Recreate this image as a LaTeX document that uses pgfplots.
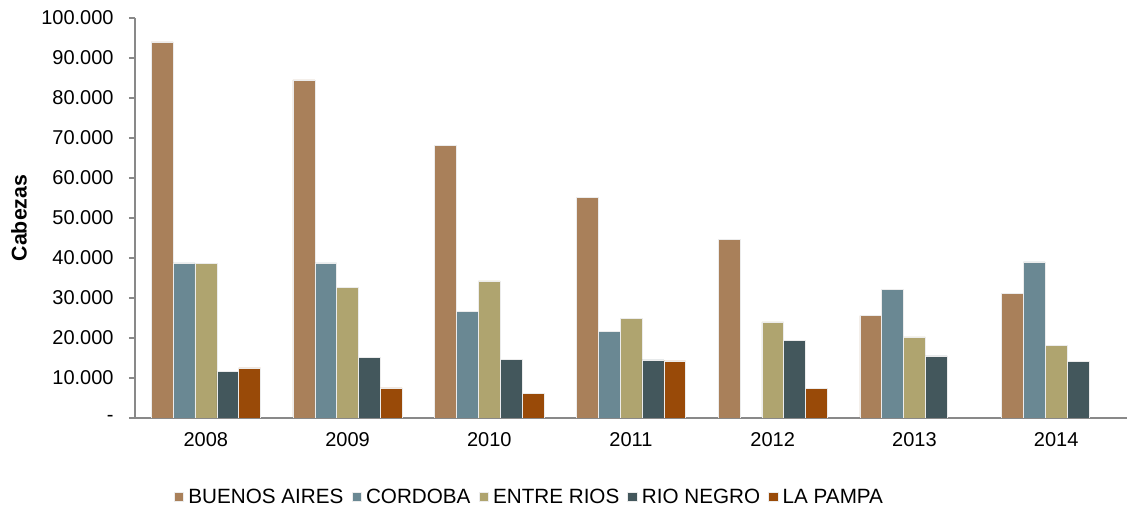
\documentclass[border=0pt]{standalone}
\usepackage{pgfplots}
\pgfplotsset{compat=1.18}
\usepackage{fontspec}
\setmainfont{Liberation Sans}
\definecolor{cBA}{HTML}{A9805A}
\definecolor{cCO}{HTML}{6A8893}
\definecolor{cER}{HTML}{AFA46F}
\definecolor{cRN}{HTML}{43575C}
\definecolor{cLP}{HTML}{994A08}
\definecolor{axgray}{HTML}{898989}
\begin{document}
\begin{tikzpicture}
\useasboundingbox (-101.25pt,-71.25pt) rectangle (744pt,313.5pt);
\begin{axis}[
  at={(0,0)}, anchor=south west,
  scale only axis, width=744pt, height=300pt,
  ybar=0pt, bar width=16.4pt,
  xmin=-0.5, xmax=6.5, ymin=0, ymax=100000,
  scaled y ticks=false,
  axis lines=left, axis line style={-, draw=axgray, line width=0.8pt},
  xtick={0,...,6}, xticklabels={2008,2009,2010,2011,2012,2013,2014},
  x tick style={draw=none},
  extra x ticks={-0.5,0.5,1.5,2.5,3.5,4.5,5.5,6.5},
  extra x tick labels={},
  extra x tick style={tick style={draw=axgray, line width=0.8pt}, major tick length=5pt, tick align=outside},
  ytick={0,10000,...,100000},
  yticklabels={-,10.000,20.000,30.000,40.000,50.000,60.000,70.000,80.000,90.000,100.000},
  y tick style={draw=axgray, line width=0.8pt},
  tick align=outside, major tick length=4.5pt,
  ticklabel style={font=\fontsize{15pt}{18pt}\selectfont},
  yticklabel style={xshift=-8pt},
  xticklabel style={yshift=-3pt},
  ylabel={\textbf{Cabezas}},
  ylabel style={at={(axis description cs:-0.117,0.5)}, anchor=center, font=\fontsize{16pt}{19pt}\selectfont},
  legend columns=-1,
  legend style={at={(axis description cs:0.398,-0.1975)}, anchor=center, draw=none, fill=none,
    font=\fontsize{15.5pt}{18pt}\selectfont, /tikz/every even column/.append style={column sep=4pt},
    /tikz/every odd column/.append style={column sep=1.5pt}},
  legend image code/.code={\fill[#1] (0pt,-3.5pt) rectangle (7pt,3.5pt);},
  every axis plot/.append style={draw=white!85!gray, line width=0.4pt},
]
\addplot[fill=cBA] coordinates {(0,94000) (1,84500) (2,68200) (3,55100) (4,44700) (5,25600) (6,31200)};
\addplot[fill=cCO] coordinates {(0,38800) (1,38800) (2,26600) (3,21600) (5,32200) (6,39000)};
\addplot[fill=cER] coordinates {(0,38700) (1,32700) (2,34300) (3,24900) (4,24000) (5,20250) (6,18200)};
\addplot[fill=cRN] coordinates {(0,11700) (1,15100) (2,14700) (3,14500) (4,19400) (5,15500) (6,14100)};
\addplot[fill=cLP] coordinates {(0,12500) (1,7500) (2,6200) (3,14250) (4,7400)};
\legend{BUENOS AIRES,CORDOBA,ENTRE RIOS,RIO NEGRO,LA PAMPA}
\end{axis}
\end{tikzpicture}
\end{document}
